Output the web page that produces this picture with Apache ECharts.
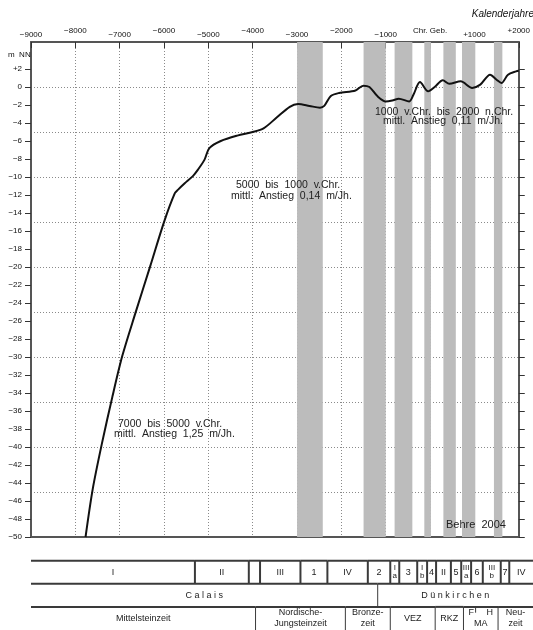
<!DOCTYPE html>
<html><head><meta charset="utf-8">
<script src="https://cdn.jsdelivr.net/npm/echarts@6/dist/echarts.min.js"></script>
<style>html,body{margin:0;padding:0;background:#fff}#c{width:533px;height:630px}</style>
</head><body><div id="c"></div><script>
// ---- data ----
const years = [-7770,-7609,-7400,-7164,-6942,-6644,-6311,-5993,-5756,-5682,-5533,-5349,-5238,-5089,-4978,-4720,-4349,-4000,-3756,-3460,-3164,-2978,-2720,-2482,-2387,-2238,-2053,-1682,-1505,-1368,-1184,-1000,-853,-706,-471,-375,-228,-44,103,287,434,691,949,1132,1353,1500,1610,1757,1941,2000];
const level = [-50,-44.7,-39.6,-34.4,-29.9,-25.1,-19.9,-14.9,-11.8,-11.4,-10.7,-9.9,-9.2,-8.1,-6.8,-6.0,-5.4,-5.0,-4.6,-3.4,-2.2,-1.9,-2.1,-2.3,-2.1,-1.0,-0.67,-0.38,0.15,0,-1.04,-1.6,-1.5,-1.3,-1.6,-0.86,0.55,-0.48,0,0.74,0.36,0.63,-0.1,0.26,1.37,0.81,0.44,1.37,1.74,1.8];
const bandStart = [-3000,-1500,-800,-130,300,720,1440];
const bandEnd   = [-2420,-1000,-400,20,580,1020,1630];
const xTickValues = [-9000,-8000,-7000,-6000,-5000,-4000,-3000,-2000,-1000,0,1000,2000];
const xTickLabels = ['−9000','−8000','−7000','−6000','−5000','−4000','−3000','−2000','−1000','Chr. Geb.','+1000','+2000'];
const yTickValues = [2,0,-2,-4,-6,-8,-10,-12,-14,-16,-18,-20,-22,-24,-26,-28,-30,-32,-34,-36,-38,-40,-42,-44,-46,-48,-50];
const yTickLabels = ['+2','0','−2','−4','−6','−8','−10','−12','−14','−16','−18','−20','−22','−24','−26','−28','−30','−32','−34','−36','−38','−40','−42','−44','−46','−48','−50'];
const row1Start  = [-9000,-5350,-4150,-3900,-3000,-2400,-1500,-1000,-800,-400,-180,20,350,580,800,1060,1460,1650];
const row1Labels = ['I','II','','III','1','IV','2','I\na','3','I\nb','4','II','5','III\na','6','III\nb','7','IV'];
const row2Start  = [-9000,-1280];
const row2Labels = ['C a l a i s','D ü n k i r c h e n'];
const row3Start  = [-9000,-4000,-2000,-1000,0,630,1400];
const row3Labels = ['Mittelsteinzeit','Nordische-\nJungsteinzeit','Bronze-\nzeit','VEZ','RKZ','F     H\nMA','Neu-\nzeit'];
const row3Marks  = [900];

// ---- layout ----
const X_MIN = -9000, X_MAX = 2000, PLOT_L = 31, PLOT_W = 494;
const TABLE_END = X_MAX + (533 - PLOT_L - PLOT_W) / PLOT_W * (X_MAX - X_MIN);
const FONT = 'Liberation Sans, Arial, sans-serif';

function buildRow(starts, labels, row) {
  return starts.map((s, i) => ({ s, e: i < starts.length - 1 ? starts[i + 1] : TABLE_END, row, label: labels[i] }));
}
const cells = [].concat(buildRow(row1Start, row1Labels, 0), buildRow(row2Start, row2Labels, 1), buildRow(row3Start, row3Labels, 2));

const chart = echarts.init(document.getElementById('c'), null, { renderer: 'canvas' });
const dotted = { color: '#8a8a8a', width: 1, type: [1, 2] };
const axisLineStyle = { show: true, onZero: false, lineStyle: { color: '#555', width: 2 } };
function txt(left, top, text, extra) {
  return { type: 'text', left, top, z: 100, style: Object.assign({ text, fontSize: 10.5, fontFamily: FONT, fill: '#222' }, extra || {}) };
}

chart.setOption({
  animation: false,
  backgroundColor: '#fff',
  grid: [
    { left: PLOT_L, top: 42, width: PLOT_W, height: 495 },
    { left: PLOT_L, top: 560.7, right: 0, height: 69.3 }
  ],
  xAxis: [
    { type: 'value', gridIndex: 0, position: 'top', min: X_MIN, max: X_MAX, interval: 1000,
      axisLine: axisLineStyle,
      axisTick: { inside: true, length: 6, lineStyle: { color: '#333' } },
      splitLine: { show: true, lineStyle: dotted },
      axisLabel: { margin: 3, fontSize: 8, fontFamily: FONT, color: '#111',
        formatter: v => { const i = xTickValues.indexOf(v); if (i < 0) return ''; const t = xTickLabels[i];
          return (Math.round(v / 1000) % 2 === 0) ? '{hi|' + t + '}' : '{lo|' + t + '}'; },
        rich: { hi: { padding: [0, 0, 4, 0], fontSize: 8, fontFamily: FONT, color: '#111' },
                lo: { fontSize: 8, fontFamily: FONT, color: '#111' } } } },
    { type: 'value', gridIndex: 0, position: 'bottom', min: X_MIN, max: X_MAX, interval: 1000,
      axisLine: axisLineStyle, axisTick: { show: false }, axisLabel: { show: false }, splitLine: { show: false } },
    { type: 'value', gridIndex: 1, min: X_MIN, max: TABLE_END, show: false }
  ],
  yAxis: [
    { type: 'value', gridIndex: 0, position: 'left', min: -50, max: 5,
      axisLine: axisLineStyle,
      axisTick: { show: true, inside: false, length: 6, customValues: yTickValues, lineStyle: { color: '#333' } },
      axisLabel: { margin: 9, fontSize: 8, fontFamily: FONT, color: '#111', customValues: yTickValues,
        formatter: v => { const i = yTickValues.indexOf(v); return i < 0 ? '' : yTickLabels[i]; } },
      splitLine: { show: false } },
    { type: 'value', gridIndex: 0, position: 'right', min: -50, max: 5,
      axisLine: axisLineStyle,
      axisTick: { show: true, inside: false, length: 6, customValues: yTickValues, lineStyle: { color: '#333' } },
      axisLabel: { show: false }, splitLine: { show: false } },
    { type: 'value', gridIndex: 0, position: 'left', min: -50, max: 5, interval: 5,
      axisLine: { show: false, onZero: false }, axisTick: { show: false }, axisLabel: { show: false },
      splitLine: { show: true, lineStyle: dotted } },
    { type: 'value', gridIndex: 1, min: 0, max: 3, inverse: true, show: false }
  ],
  graphic: [
    txt(8, 51, 'm  NN', { fontSize: 8, fill: '#111' }),
    { type: 'text', right: -1, top: 9, z: 100, style: { text: 'Kalenderjahre', fontSize: 10, fontStyle: 'italic', fontFamily: FONT, fill: '#111' } },
    txt(446, 519, 'Behre  2004', { fontSize: 11 }),
    txt(236, 180, '5000  bis  1000  v.Chr.'),
    txt(231, 191, 'mittl.  Anstieg  0,14  m/Jh.'),
    txt(375, 107, '1000  v.Chr.  bis  2000  n.Chr.'),
    txt(383, 116, 'mittl.  Anstieg  0,11  m/Jh.'),
    txt(118, 419, '7000  bis  5000  v.Chr.'),
    txt(114, 429, 'mittl.  Anstieg  1,25  m/Jh.')
  ],
  series: [
    { type: 'custom', xAxisIndex: 0, yAxisIndex: 0, z: 2, clip: true,
      data: bandStart.map((s, i) => [s, bandEnd[i]]),
      renderItem: (params, api) => {
        const p0 = api.coord([api.value(0), 5]), p1 = api.coord([api.value(1), -50]);
        return { type: 'rect', shape: { x: p0[0], y: p0[1], width: p1[0] - p0[0], height: p1[1] - p0[1] },
          style: { fill: '#bcbcbc' } };
      } },
    { type: 'line', xAxisIndex: 0, yAxisIndex: 0, z: 5, smooth: 0.3, symbol: 'none',
      data: years.map((y, i) => [y, level[i]]),
      lineStyle: { color: '#111', width: 2 } },
    { type: 'custom', xAxisIndex: 2, yAxisIndex: 3, clip: false, z: 3,
      data: cells.map(c => [c.s, c.e, c.row]),
      renderItem: (params, api) => {
        const c = cells[params.dataIndex];
        const p0 = api.coord([c.s, c.row]), p1 = api.coord([c.e, c.row + 1]);
        const small = c.row === 0 && c.label.indexOf('\n') >= 0;
        const children = [
          { type: 'line', shape: { x1: p0[0], y1: p0[1], x2: p1[0], y2: p0[1] }, style: { stroke: '#3a3a3a', lineWidth: 2 } },
          { type: 'text', style: { text: c.label, x: (p0[0] + p1[0]) / 2, y: (p0[1] + p1[1]) / 2,
              align: 'center', verticalAlign: 'middle', fontSize: small ? 8 : 9, lineHeight: small ? 8 : 11,
              fontFamily: FONT, fill: '#222' } }
        ];
        if (c.s > X_MIN) {
          children.push({ type: 'line', shape: { x1: p0[0], y1: p0[1], x2: p0[0], y2: p1[1] },
            style: { stroke: '#3a3a3a', lineWidth: c.row === 0 ? 2 : 1 } });
        }
        return { type: 'group', children };
      } },
    { type: 'custom', xAxisIndex: 2, yAxisIndex: 3, clip: false, z: 3,
      data: row3Marks.map(m => [m]),
      renderItem: (params, api) => {
        const p0 = api.coord([api.value(0), 2]), p1 = api.coord([api.value(0), 2.25]);
        return { type: 'line', shape: { x1: p0[0], y1: p0[1], x2: p0[0], y2: p1[1] }, style: { stroke: '#3a3a3a', lineWidth: 1 } };
      } }
  ]
});
</script></body></html>
